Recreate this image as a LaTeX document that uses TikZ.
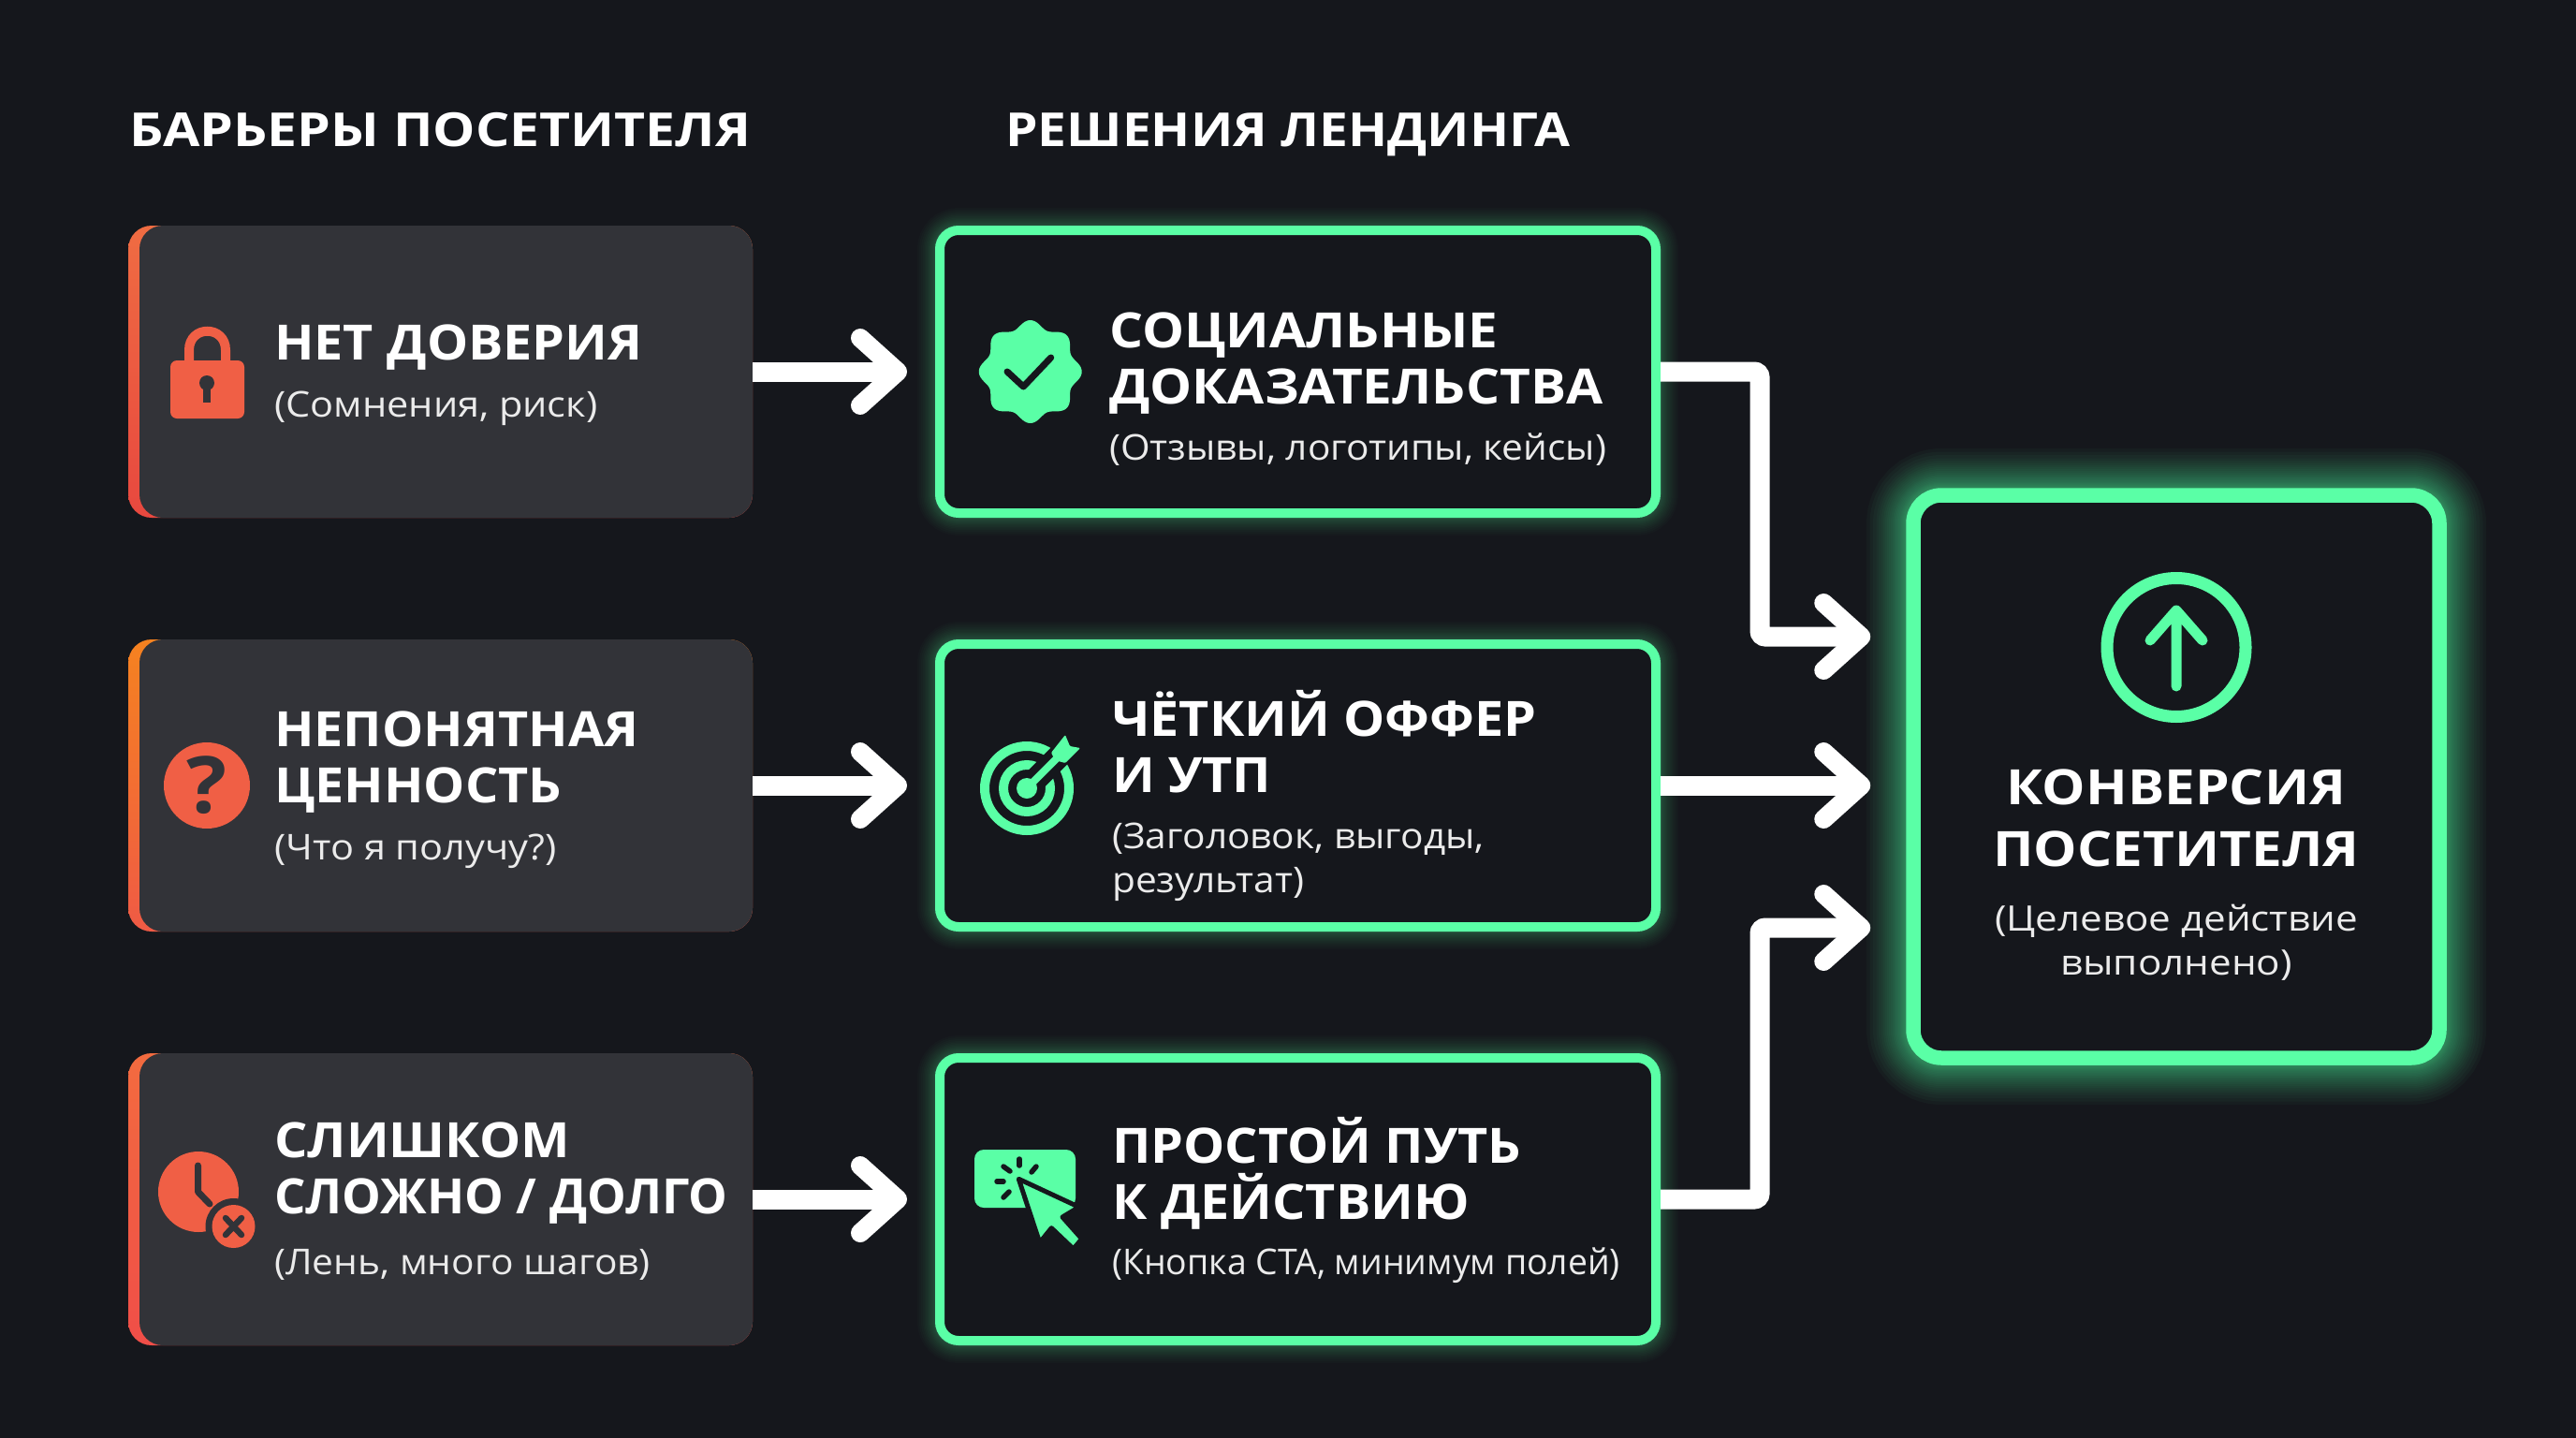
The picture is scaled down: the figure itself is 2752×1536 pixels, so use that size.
\documentclass[tikz,border=0pt]{standalone}
\usepackage{fontspec}
\usetikzlibrary{arrows.meta}
\setmainfont{Open Sans}[FakeStretch=1.07]
\newfontfamily\widefamily{Open Sans}[FakeStretch=1.125]
\newcommand{\titlefont}{\fontsize{52}{60}\selectfont\bfseries}
\newcommand{\headerfont}{\widefamily\fontsize{50}{60}\selectfont\bfseries}
\newcommand{\goaltitlefont}{\widefamily\fontsize{52}{66}\selectfont\bfseries}
\newcommand{\goalsubfont}{\widefamily\fontsize{37.5}{47}\selectfont}
\newcommand{\subfont}{\fontsize{38}{47}\selectfont}

\definecolor{pagedark}{HTML}{15171C}
\definecolor{paneldark}{HTML}{323338}
\definecolor{neon}{HTML}{5AFFA6}
\definecolor{alarm}{HTML}{F05F45}
\definecolor{edgeA}{HTML}{EF6C42}
\definecolor{edgeB}{HTML}{E8483F}
\definecolor{edgeC}{HTML}{F58220}
\definecolor{edgeD}{HTML}{EF5A45}
\definecolor{edgeE}{HTML}{F26B3F}
\definecolor{edgeF}{HTML}{F04E48}

\tikzset{
    glowring/.style={preaction={draw=neon, line width=#1, draw opacity=.02}},
    strongring/.style={preaction={draw=neon, line width=#1, draw opacity=.032}},
    barbox/.style={rectangle, rounded corners=25pt, minimum width=667pt, minimum height=312pt, inner sep=0pt, outer sep=0pt},
    panelbox/.style={rectangle, rounded corners=25pt, fill=paneldark, minimum width=655pt, minimum height=312pt, inner sep=0pt, outer sep=0pt, anchor=east},
    solbox/.style={rectangle, rounded corners=20pt, draw=neon, fill=pagedark, line width=10pt, minimum width=765pt, minimum height=302pt, inner sep=0pt,
        glowring/.list={48pt,44pt,40pt,36pt,33pt,30pt,27pt,24pt,22pt,20pt,18pt,16pt,14pt,13pt,12pt}},
    goalbox/.style={rectangle, rounded corners=30pt, draw=neon, fill=pagedark, line width=15.5pt, minimum width=562pt, minimum height=601pt, inner sep=0pt,
        strongring/.list={100pt,93pt,86pt,79pt,74pt,69pt,64pt,60pt,56pt,52pt,48pt,44pt,41pt,38pt,35pt,32pt,29pt,27pt,25pt,23pt,21pt,19pt}},
    titletext/.style={text=white, font=\titlefont, align=left, anchor=base west, inner sep=0pt},
    headertext/.style={text=white, font=\headerfont, anchor=base west, inner sep=0pt},
    subtext/.style={text=white!92!black, font=\subfont, align=left, anchor=base west, inner sep=0pt},
    flow/.style={draw=white, line width=21pt, rounded corners=6pt, -{Straight Barb[length=40pt, width=72pt, line width=20pt, round]}},
    tick/.style={draw=pagedark, line width=5.5pt, line cap=round},
}

\begin{document}
\begin{tikzpicture}[x=1pt, y=-1pt]
\useasboundingbox (0,0) rectangle (2752,1536);
\fill[pagedark] (0,0) rectangle (2752,1536);

% Column headers
\node[headertext] (BarrierHead) at (138,157) {\scalebox{1.015}[1]{БАРЬЕРЫ ПОСЕТИТЕЛЯ}};
\node[headertext] (SolutionHead) at (1074,157) {\scalebox{.98}[1]{РЕШЕНИЯ ЛЕНДИНГА}};

% Barrier boxes with gradient edge
\node[barbox, top color=edgeA, bottom color=edgeB] (NoTrust) at (470.5,397) {};
\node[barbox, top color=edgeC, bottom color=edgeD] (Unclear) at (470.5,839) {};
\node[barbox, top color=edgeE, bottom color=edgeF] (TooLong) at (470.5,1281) {};
\node[panelbox] (NoTrustPanel) at (NoTrust.east) {};
\node[panelbox] (UnclearPanel) at (Unclear.east) {};
\node[panelbox] (TooLongPanel) at (TooLong.east) {};

% Barrier texts
\node[titletext] (NoTrustTitle) at (293,384) {НЕТ ДОВЕРИЯ};
\node[subtext] (NoTrustSub) at (293,445) {\scalebox{1.02}[1]{(Сомнения, риск)}};
\node[titletext] (UnclearTitle) at (293,857) {НЕПОНЯТНАЯ\\ЦЕННОСТЬ};
\node[subtext] (UnclearSub) at (293,918) {\scalebox{1.02}[1]{(Что я получу?)}};
\node[titletext] (TooLongTitle) at (293,1296) {СЛИШКОМ\\\scalebox{.945}[1]{СЛОЖНО / ДОЛГО}};
\node[subtext] (TooLongSub) at (293,1361) {(Лень, много шагов)};

% Lock icon
\fill[alarm, rounded corners=7pt] (182,385) rectangle (261,447);
\draw[alarm, line width=10pt] (202,392) -- (202,374) .. controls (202,347) and (241,347) .. (241,374) -- (241,392);
\fill[paneldark] (221,409) circle (8pt);
\fill[paneldark] (217,409) rectangle (225,430);

% Question icon
\node[circle, fill=alarm, minimum size=92pt, inner sep=0pt, text=paneldark, font=\fontsize{84}{84}\selectfont\bfseries] (QuestionIcon) at (221,839) {?};

% Clock icon with cross badge
\fill[alarm] (212,1273) circle (43pt);
\draw[paneldark, line width=7pt, line cap=round, line join=round] (211.5,1245) -- (211.5,1273) -- (224,1286);
\fill[paneldark] (249.5,1310) circle (30pt);
\fill[alarm] (249.5,1310) circle (23pt);
\draw[paneldark, line width=6.5pt, line cap=round] (241,1301) -- (258,1319) (258,1301) -- (241,1319);

% Solution boxes
\node[solbox] (Proof) at (1386.5,397) {};
\node[solbox] (Offer) at (1386.5,839) {};
\node[solbox] (Route) at (1386.5,1281) {};

% Solution texts
\node[titletext] (ProofTitle) at (1185,431) {\scalebox{1.02}[1]{СОЦИАЛЬНЫЕ}\\\scalebox{1.02}[1]{ДОКАЗАТЕЛЬСТВА}};
\node[subtext] (ProofSub) at (1185,491) {(Отзывы, логотипы, кейсы)};
\node[titletext] (OfferTitle) at (1188,846) {ЧЁТКИЙ ОФФЕР\\И УТП};
\node[subtext] (OfferSub) at (1188,953) {(Заголовок, выгоды,\\результат)};
\node[titletext] (RouteTitle) at (1188,1302) {ПРОСТОЙ ПУТЬ\\К ДЕЙСТВИЮ};
\node[subtext] (RouteSub) at (1188,1361) {\scalebox{.92}[1]{(Кнопка CTA, минимум полей)}};

% Badge icon
\fill[neon] plot[domain=0:360, samples=180, smooth cycle] ({1100.7+(51+4*cos(8*\x))*cos(\x)},{397+(51+4*cos(8*\x))*sin(\x)});
\draw[pagedark, line width=7pt, line cap=round, line join=round] (1076,397) -- (1093.3,413) -- (1122.7,382);

% Target icon
\draw[neon, line width=10pt] (1097,842) circle (45pt);
\draw[neon, line width=10pt] (1097,842) circle (25pt);
\draw[pagedark, line width=25pt] (1097,842) -- (1145,794);
\fill[neon] (1097,842) circle (11pt);
\draw[neon, line width=8pt] (1097,842) -- (1130,809);
\fill[neon, rounded corners=1pt] (1123,804) -- (1138,785) -- (1143,797) -- (1154,799) -- (1138,815) -- (1127,812) -- cycle;

% Cursor icon
\fill[neon, rounded corners=10pt] (1041,1228) rectangle (1149,1290);
\draw[tick] (1089,1238) -- (1089,1245);
\draw[tick] (1072,1246) -- (1079,1251);
\draw[tick] (1102,1252) -- (1107,1246);
\draw[tick] (1065,1262) -- (1072,1262);
\draw[tick] (1072,1279) -- (1078,1273);
\fill[neon, draw=pagedark, line width=5pt, line join=round] (1088.3,1259.3) -- (1152.7,1289.3) -- (1135,1300) -- (1155.7,1323.3) -- (1146.7,1334) -- (1123.3,1311.7) -- (1110.7,1327.3) -- cycle;

% Goal box
\node[goalbox] (Conversion) at (2325,829.5) {};
\node[circle, draw=neon, line width=13pt, minimum size=148pt, inner sep=0pt] (GoalRing) at (2325,691.5) {};
\draw[neon, line width=11pt, line cap=round, line join=round] (2325,733) -- (2325,652) (2297,684) -- (2325,652) -- (2353,684);
\node[titletext, font=\goaltitlefont, align=center, anchor=base] (GoalTitle) at (2325,925) {КОНВЕРСИЯ\\ПОСЕТИТЕЛЯ};
\node[subtext, font=\goalsubfont, align=center, anchor=base] (GoalSub) at (2325,1041) {(Целевое действие\\выполнено)};

% Connectors
\coordinate (Bus) at (1880,0);
\coordinate (GoalInTop) at (Conversion.west |- 0,680);
\coordinate (GoalInBottom) at (Conversion.west |- 0,991);
\draw[flow, shorten >=30pt] (NoTrust.east) -- (Proof.west);
\draw[flow, shorten >=30pt] (Unclear.east) -- (Offer.west);
\draw[flow, shorten >=30pt] (TooLong.east) -- (Route.west);
\draw[flow, shorten >=38pt] (Proof.east) -- (Proof.east -| Bus) |- (GoalInTop);
\draw[flow, shorten >=38pt] (Offer.east) -- (Offer.east -| Conversion.west);
\draw[flow, shorten >=38pt] (Route.east) -- (Route.east -| Bus) |- (GoalInBottom);

\end{tikzpicture}
\end{document}
